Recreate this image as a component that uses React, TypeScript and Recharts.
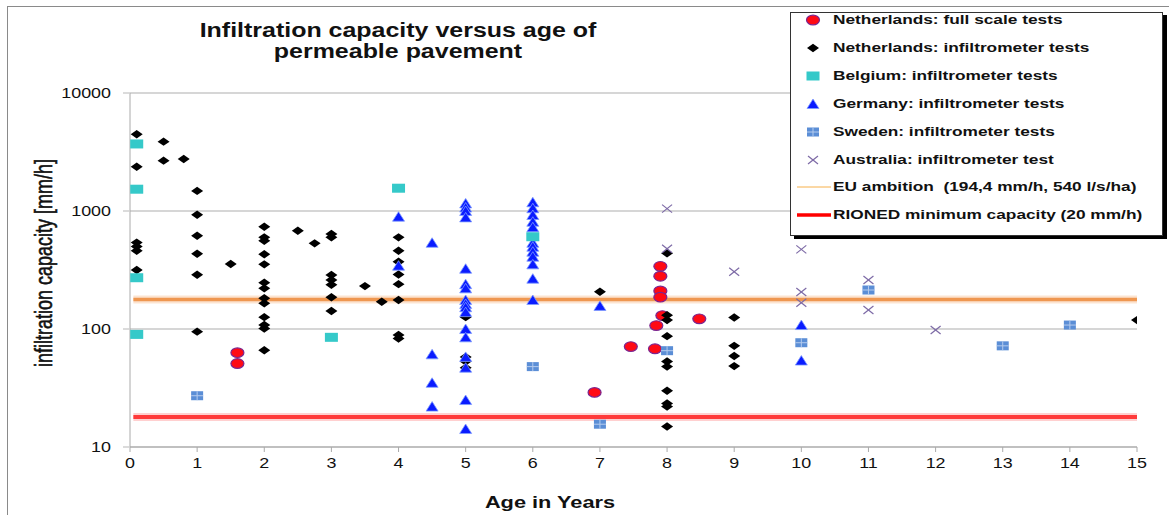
import { CartesianGrid, ReferenceLine, Scatter, ScatterChart, XAxis, YAxis } from 'recharts'

const FONT = '"Liberation Sans", Arial, Helvetica, sans-serif'
const STRETCH = 1.28 // the source image is stretched sideways

// axis ticks
const ageTicks = [0, 1, 2, 3, 4, 5, 6, 7, 8, 9, 10, 11, 12, 13, 14, 15]
const capacityTicks = [10, 100, 1000, 10000]

// [age in years, infiltration capacity mm/h]
const nlFullScale = [
  [1.6, 63], [1.6, 51], [6.92, 29], [7.46, 71], [7.82, 68], [7.84, 107],
  [7.9, 340], [7.9, 280], [7.9, 210], [7.9, 186], [7.93, 130], [8.48, 122],
]
const nlInfiltrometer = [
  [0.1, 4470], [0.1, 2370], [0.1, 540], [0.1, 500], [0.1, 460], [0.1, 316],
  [0.5, 3870], [0.5, 2670], [0.8, 2760],
  [1, 1480], [1, 930], [1, 617], [1, 434], [1, 288], [1, 95],
  [1.5, 355],
  [2, 736], [2, 598], [2, 560], [2, 430], [2, 353], [2, 247], [2, 221], [2, 182],
  [2, 165], [2, 126], [2, 108], [2, 101], [2, 66],
  [2.5, 681], [2.75, 532],
  [3, 638], [3, 598], [3, 287], [3, 260], [3, 237], [3, 186], [3, 142],
  [3.5, 231], [3.75, 170],
  [4, 598], [4, 461], [4, 372], [4, 290], [4, 240], [4, 176], [4, 89], [4, 83],
  [5, 126], [5, 58], [5, 53], [5, 47],
  [7, 207],
  [8, 438], [8, 131], [8, 119], [8, 87], [8, 53], [8, 48], [8, 30], [8, 23.4], [8, 22], [8, 14.9],
  [9, 125], [9, 72], [9, 59], [9, 48.5],
  [15, 119],
]
const belgium = [
  [0.1, 3700], [0.1, 1530], [0.1, 272], [0.1, 90], [3, 85], [4, 1560], [6, 605],
]
const germany = [
  [4, 895], [4, 344], [4.5, 538], [4.5, 61], [4.5, 35], [4.5, 22],
  [5, 1160], [5, 1070], [5, 1000], [5, 883], [5, 324], [5, 240], [5, 221], [5, 176],
  [5, 163], [5, 153], [5, 139], [5, 100], [5, 85], [5, 58], [5, 47], [5, 25], [5, 14.2],
  [6, 1186], [6, 1055], [6, 925], [6, 811], [6, 728], [6, 538], [6, 498], [6, 452],
  [6, 410], [6, 353], [6, 267], [6, 176],
  [7, 157], [10, 108], [10, 54],
]
const sweden = [
  [1, 27.2], [6, 48], [7, 15.6], [8, 65.5], [10, 76.5], [11, 214], [13, 72], [14, 108],
]
const australia = [
  [8, 1047], [8, 479], [9, 306], [10, 473], [10, 206], [10, 167], [11, 260], [11, 145], [12, 98],
]

// reference levels as drawn
const euAmbition = 178
const rionedMinimum = 18
const levelFrom = 0.05
const levelTo = 15

const toPoints = (rows: number[][]) => rows.map(([x, y]) => ({ x, y }))

// marker shapes
const RedDot = ({ cx, cy }: any) => (
  <ellipse cx={cx} cy={cy} rx={6.5} ry={4.8} fill="#ff0a14" stroke="#7b2590" strokeWidth={1.2} />
)
const Diamond = ({ cx, cy }: any) => (
  <path d={`M${cx - 6},${cy} L${cx},${cy - 4.2} L${cx + 6},${cy} L${cx},${cy + 4.2} Z`} fill="#000" />
)
const TealSquare = ({ cx, cy }: any) => (
  <rect x={cx - 6.5} y={cy - 4.5} width={13} height={9} fill="#35c9c9" />
)
const Triangle = ({ cx, cy }: any) => (
  <path d={`M${cx},${cy - 5} L${cx + 6},${cy + 4.5} L${cx - 6},${cy + 4.5} Z`} fill="#0a1cff" stroke="#7f9cff" strokeWidth={0.8} />
)
const SwedenSquare = ({ cx, cy }: any) => (
  <g>
    <rect x={cx - 6} y={cy - 4.5} width={12} height={9} fill="#5b8ed6" />
    <line x1={cx} y1={cy - 4.5} x2={cx} y2={cy + 4.5} stroke="#b4cbee" strokeWidth={1} />
    <line x1={cx - 6} y1={cy} x2={cx + 6} y2={cy} stroke="#b4cbee" strokeWidth={1} />
  </g>
)
const Cross = ({ cx, cy }: any) => (
  <g stroke="#7d6aa6" strokeWidth={1.2}>
    <line x1={cx - 5} y1={cy - 4} x2={cx + 5} y2={cy + 4} />
    <line x1={cx - 5} y1={cy + 4} x2={cx + 5} y2={cy - 4} />
  </g>
)

const YTick = ({ x, y, payload }: any) => (
  <g transform={`translate(${x},${y}) scale(${STRETCH},1)`}>
    <text x={0} y={0} dy="0.35em" textAnchor="end" fontSize={14} fill="#111" fontFamily={FONT}>
      {payload.value}
    </text>
  </g>
)
const XTick = ({ x, y, payload }: any) => (
  <g transform={`translate(${x},${y}) scale(${STRETCH},1)`}>
    <text x={0} y={0} dy="0.71em" textAnchor="middle" fontSize={14} fill="#111" fontFamily={FONT}>
      {payload.value}
    </text>
  </g>
)

const legendItems = [
  { label: 'Netherlands: full scale tests', Icon: RedDot },
  { label: 'Netherlands: infiltrometer tests', Icon: Diamond },
  { label: 'Belgium: infiltrometer tests', Icon: TealSquare },
  { label: 'Germany: infiltrometer tests', Icon: Triangle },
  { label: 'Sweden: infiltrometer tests', Icon: SwedenSquare },
  { label: 'Australia: infiltrometer test', Icon: Cross },
  { label: 'EU ambition  (194,4 mm/h, 540 l/s/ha)', line: { stroke: '#f7b04a', width: 1 } },
  { label: 'RIONED minimum capacity (20 mm/h)', line: { stroke: '#ff0000', width: 3.5 } },
]

const stretched = (origin: string) => ({
  display: 'inline-block',
  transform: `scaleX(${STRETCH})`,
  transformOrigin: origin,
  whiteSpace: 'pre' as const,
})

function Legend() {
  return (
    <div
      style={{
        position: 'absolute', left: 790, top: 12, width: 371, height: 222,
        background: '#fff', border: '1px solid #333', boxShadow: '4px 3px 0 #000',
      }}
    >
      {legendItems.map((item, i) => {
        const cy = 7 + i * 27.9
        return (
          <div key={item.label} style={{ position: 'absolute', left: 0, top: cy - 10, height: 20, width: 370 }}>
            <svg width={42} height={20} style={{ position: 'absolute', left: 0, top: 0 }}>
              {item.Icon ? <item.Icon cx={22} cy={10} /> : (
                <line x1={6} y1={10} x2={40} y2={10} stroke={item.line!.stroke} strokeWidth={item.line!.width} />
              )}
            </svg>
            <span
              style={{
                ...stretched('left center'), position: 'absolute', left: 42, top: 2,
                fontFamily: FONT, fontWeight: 'bold', fontSize: 13.5, color: '#111', lineHeight: '16px',
              }}
            >
              {item.label}
            </span>
          </div>
        )
      })}
    </div>
  )
}

export default function App() {
  return (
    <div style={{ position: 'absolute', left: 0, top: 0, width: 1169, height: 515, overflow: 'hidden', background: '#fff', fontFamily: FONT }}>
      <div style={{ position: 'absolute', left: 7, top: 6, width: 1200, height: 600, borderLeft: '1.5px solid #8a8a8a', borderTop: '1.5px solid #8a8a8a' }} />

      <ScatterChart width={1169} height={515} margin={{ top: 93, right: 32, bottom: 0, left: 0 }} style={{ position: 'absolute', left: 0, top: 0 }}>
        <CartesianGrid vertical={false} stroke="#d6d6d6" strokeWidth={2} />
        <XAxis
          type="number" dataKey="x" domain={[0, 15]} ticks={ageTicks} allowDataOverflow
          height={68} tickSize={5} tickMargin={6} stroke="#aaa" tick={<XTick />}
        />
        <YAxis
          type="number" dataKey="y" scale="log" domain={[10, 10000]} ticks={capacityTicks} allowDataOverflow
          width={130} tickSize={7} tickMargin={12} stroke="#aaa" tickLine={{ stroke: '#cfcfcf', strokeWidth: 1.5 }} tick={<YTick />}
        />
        <Scatter data={toPoints(nlFullScale)} shape={RedDot} isAnimationActive={false} />
        <Scatter data={toPoints(nlInfiltrometer)} shape={Diamond} isAnimationActive={false} />
        <Scatter data={toPoints(germany)} shape={Triangle} isAnimationActive={false} />
        <Scatter data={toPoints(belgium)} shape={TealSquare} isAnimationActive={false} />
        <Scatter data={toPoints(sweden)} shape={SwedenSquare} isAnimationActive={false} />
        <Scatter data={toPoints(australia)} shape={Cross} isAnimationActive={false} />
        <ReferenceLine segment={[{ x: levelFrom, y: euAmbition }, { x: levelTo, y: euAmbition }]} stroke="#f6b27a" strokeWidth={8} strokeOpacity={0.35} />
        <ReferenceLine segment={[{ x: levelFrom, y: euAmbition }, { x: levelTo, y: euAmbition }]} stroke="#ec8a3a" strokeWidth={3.5} strokeOpacity={0.85} />
        <ReferenceLine segment={[{ x: levelFrom, y: rionedMinimum }, { x: levelTo, y: rionedMinimum }]} stroke="#ff8a8a" strokeWidth={8} strokeOpacity={0.4} />
        <ReferenceLine segment={[{ x: levelFrom, y: rionedMinimum }, { x: levelTo, y: rionedMinimum }]} stroke="#ff3a3a" strokeWidth={4} />
      </ScatterChart>

      <div style={{ position: 'absolute', left: 398, top: 30, transform: 'translate(-50%,-50%)' }}>
        <span style={{ ...stretched('center'), fontWeight: 'bold', fontSize: 19.5, color: '#111' }}>
          Infiltration capacity versus age of
        </span>
      </div>
      <div style={{ position: 'absolute', left: 398, top: 51, transform: 'translate(-50%,-50%)' }}>
        <span style={{ ...stretched('center'), fontWeight: 'bold', fontSize: 19.5, color: '#111' }}>
          permeable pavement
        </span>
      </div>

      <div
        style={{
          position: 'absolute', left: 45, top: 263, whiteSpace: 'nowrap',
          transform: `translate(-50%,-50%) rotate(-90deg) scaleY(${STRETCH})`,
          fontSize: 18, color: '#111', WebkitTextStroke: '0.45px #111',
        }}
      >
        infiltration capacity [mm/h]
      </div>

      <div style={{ position: 'absolute', left: 550, top: 503, transform: 'translate(-50%,-50%)' }}>
        <span style={{ ...stretched('center'), fontWeight: 'bold', fontSize: 17, color: '#111' }}>
          Age in Years
        </span>
      </div>

      <Legend />
    </div>
  )
}
